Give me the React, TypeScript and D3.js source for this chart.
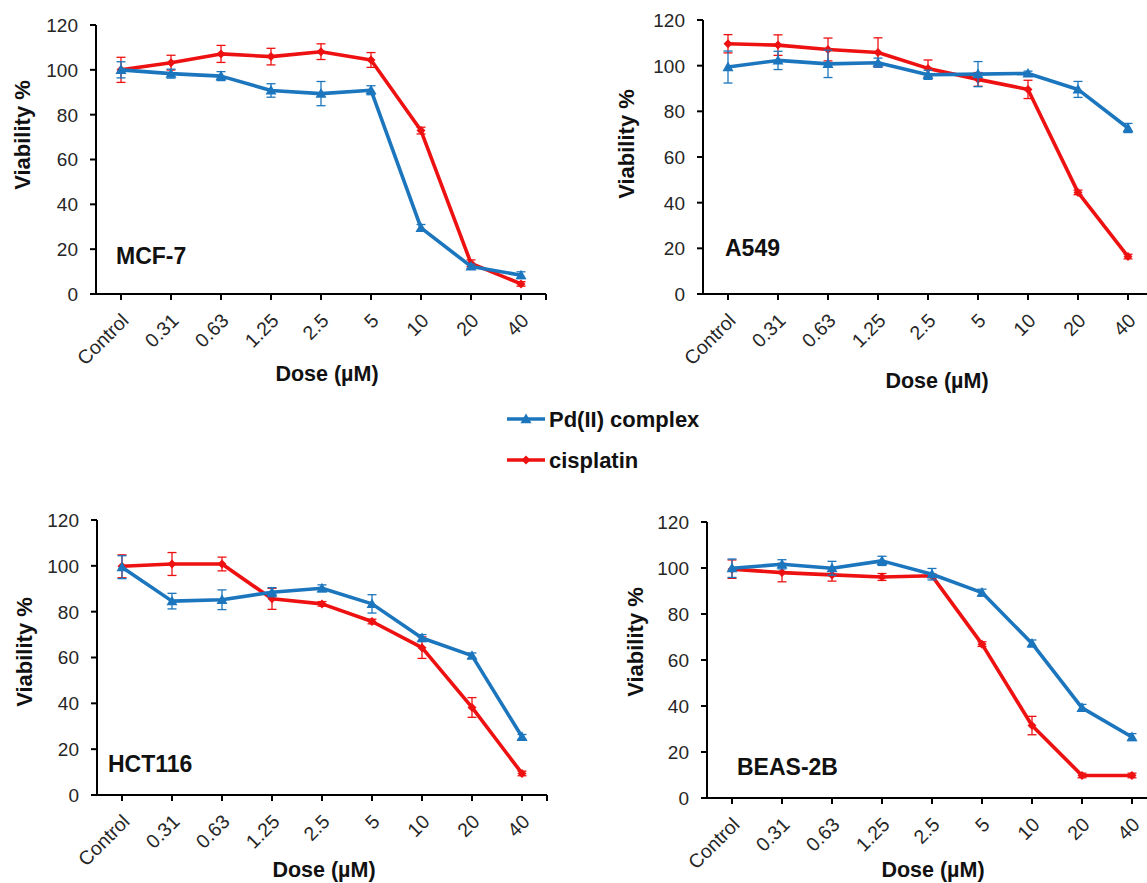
import React from "react";
import * as d3 from "d3";

// ---------- data ----------
const doses = ["Control", "0.31", "0.63", "1.25", "2.5", "5", "10", "20", "40"];
const yTicks = [0, 20, 40, 60, 80, 100, 120];
const seriesNames = ["Pd(II) complex", "cisplatin"];

const mcf7Pd = [100, 98.3, 97.2, 90.8, 89.4, 90.9, 29.5, 12.3, 8.4];
const mcf7PdErr = [3.6, 2, 2, 3, 5.4, 2, 1.5, 1, 1.5];
const mcf7Cis = [100, 103.2, 107.1, 105.9, 108.1, 104.4, 72.9, 13.7, 4.5];
const mcf7CisErr = [5.6, 3.3, 3.8, 3.7, 3.5, 3.3, 1.5, 1.5, 1];

const a549Pd = [99.4, 102.3, 100.8, 101.3, 96, 96.3, 96.6, 89.6, 72.7];
const a549PdErr = [7, 4, 6, 2, 2, 5.5, 1, 3.5, 2];
const a549Cis = [109.6, 109, 107.1, 105.8, 98.8, 94, 89.6, 44.5, 16.4];
const a549CisErr = [4, 4.5, 5, 6.4, 3.7, 3, 4, 1, 1];

const hctPd = [99.4, 84.6, 85.2, 88.5, 90.2, 83.4, 68.5, 60.8, 25.4];
const hctPdErr = [5, 3.4, 4.3, 2, 1.5, 4, 1.5, 1.2, 1];
const hctCis = [99.8, 100.8, 100.8, 85.6, 83.4, 75.7, 64.3, 38.2, 9.4];
const hctCisErr = [5, 5, 3, 4.6, 1, 1, 4.7, 4.3, 1];

const beasPd = [99.9, 101.6, 99.9, 103.1, 97.3, 89.3, 67.2, 39.2, 26.5];
const beasPdErr = [4, 2, 3, 2, 2.5, 1.5, 1.5, 1.5, 1.5];
const beasCis = [99.5, 98, 97, 96.1, 96.6, 66.9, 31.5, 9.8, 9.8];
const beasCisErr = [4, 4, 2.7, 1.5, 0.8, 1, 4, 1, 1];

// ---------- layout ----------
const BLUE = "#1C76BE";
const RED = "#EE1111";
const FONT = "Arial, 'Liberation Sans', sans-serif";

const panels = [
  { name: "MCF-7", pd: mcf7Pd, pdErr: mcf7PdErr, cis: mcf7Cis, cisErr: mcf7CisErr,
    axisX: 96, y0: 294, yTop: 25, ylabX: 30, ylabY: 135, doseX: 327, doseY: 381, nameX: 116, nameY: 264 },
  { name: "A549", pd: a549Pd, pdErr: a549PdErr, cis: a549Cis, cisErr: a549CisErr,
    axisX: 703, y0: 294, yTop: 20, ylabX: 634, ylabY: 144, doseX: 937, doseY: 388, nameX: 725, nameY: 256 },
  { name: "HCT116", pd: hctPd, pdErr: hctPdErr, cis: hctCis, cisErr: hctCisErr,
    axisX: 97, y0: 795, yTop: 520, ylabX: 32, ylabY: 652, doseX: 324, doseY: 877, nameX: 108, nameY: 772 },
  { name: "BEAS-2B", pd: beasPd, pdErr: beasPdErr, cis: beasCis, cisErr: beasCisErr,
    axisX: 707, y0: 798, yTop: 522, ylabX: 643, ylabY: 642, doseX: 933, doseY: 877, nameX: 737, nameY: 775 },
];

function Triangle({ x, y, color }: { x: number; y: number; color: string }) {
  const s = 5.5;
  return <path d={`M${x},${y - s}L${x + s},${y + s * 0.75}L${x - s},${y + s * 0.75}Z`} fill={color} />;
}
function Diamond({ x, y, color }: { x: number; y: number; color: string }) {
  const s = 4.5;
  return <path d={`M${x},${y - s}L${x + s},${y}L${x},${y + s}L${x - s},${y}Z`} fill={color} />;
}

function Panel({ p }: { p: (typeof panels)[number] }) {
  const x = d3.scaleBand<string>().domain(doses).range([p.axisX, p.axisX + 9 * 50]);
  const y = d3.scaleLinear().domain([0, 120]).range([p.y0, p.yTop]);
  const cx = (d: string) => (x(d) as number) + x.bandwidth() / 2;
  const line = d3
    .line<number>()
    .x((_, i) => cx(doses[i]))
    .y((v) => y(v));
  const xEnd = x.range()[1];

  const series = [
    { vals: p.cis, errs: p.cisErr, color: RED, marker: "d" },
    { vals: p.pd, errs: p.pdErr, color: BLUE, marker: "t" },
  ];

  return (
    <g>
      {/* axes */}
      <line x1={p.axisX} x2={p.axisX} y1={y(120)} y2={p.y0} stroke="#000" strokeWidth={2} />
      <line x1={p.axisX - 5} x2={xEnd} y1={p.y0} y2={p.y0} stroke="#000" strokeWidth={2} />
      {yTicks.map((t) => (
        <g key={t}>
          <line x1={p.axisX - 6} x2={p.axisX} y1={y(t)} y2={y(t)} stroke="#000" strokeWidth={2} />
          <text x={p.axisX - 18} y={y(t)} dy="0.36em" textAnchor="end" fontSize={19} fill="#262626" fontFamily={FONT}>
            {t}
          </text>
        </g>
      ))}
      {doses.map((d) => (
        <g key={d}>
          <line x1={cx(d)} x2={cx(d)} y1={p.y0} y2={p.y0 + 6} stroke="#000" strokeWidth={2} />
          <text
            transform={`translate(${cx(d) + 4},${p.y0 + 23}) rotate(-45)`}
            dy="0.35em"
            textAnchor="end"
            fontSize={19.5}
            fill="#262626"
            fontFamily={FONT}
          >
            {d}
          </text>
        </g>
      ))}
      <line x1={xEnd} x2={xEnd} y1={p.y0} y2={p.y0 + 6} stroke="#000" strokeWidth={2} />

      {/* series */}
      {series.map((s, si) => (
        <g key={si}>
          <path d={line(s.vals) || ""} fill="none" stroke={s.color} strokeWidth={3.6} strokeLinejoin="round" />
          {s.vals.map((v, i) => {
            const xx = cx(doses[i]);
            const e = s.errs[i];
            return (
              <g key={i}>
                <line x1={xx} x2={xx} y1={y(v + e)} y2={y(v - e)} stroke={s.color} strokeWidth={1.3} />
                <line x1={xx - 4.5} x2={xx + 4.5} y1={y(v + e)} y2={y(v + e)} stroke={s.color} strokeWidth={1.3} />
                <line x1={xx - 4.5} x2={xx + 4.5} y1={y(v - e)} y2={y(v - e)} stroke={s.color} strokeWidth={1.3} />
                {s.marker === "t" ? (
                  <Triangle x={xx} y={y(v)} color={s.color} />
                ) : (
                  <Diamond x={xx} y={y(v)} color={s.color} />
                )}
              </g>
            );
          })}
        </g>
      ))}

      {/* labels */}
      <text
        transform={`translate(${p.ylabX},${p.ylabY}) rotate(-90)`}
        textAnchor="middle"
        fontSize={22}
        fontWeight="bold"
        fill="#111"
        fontFamily={FONT}
      >
        Viability %
      </text>
      <text x={p.doseX} y={p.doseY} textAnchor="middle" fontSize={21.5} fontWeight="bold" fill="#111" fontFamily={FONT}>
        Dose (µM)
      </text>
      <text x={p.nameX} y={p.nameY} fontSize={23} fontWeight="bold" fill="#111" fontFamily={FONT}>
        {p.name}
      </text>
    </g>
  );
}

export default function App() {
  const legend = [
    { label: seriesNames[0], color: BLUE, y: 419, marker: "t" },
    { label: seriesNames[1], color: RED, y: 460, marker: "d" },
  ];
  return (
    <svg
      width={1147}
      height={883}
      style={{ position: "absolute", left: 0, top: 0, background: "#fff" }}
      xmlns="http://www.w3.org/2000/svg"
    >
      <rect width={1147} height={883} fill="#fff" />
      {panels.map((p) => (
        <Panel key={p.name} p={p} />
      ))}
      {legend.map((l) => (
        <g key={l.label}>
          <line x1={507} x2={545} y1={l.y} y2={l.y} stroke={l.color} strokeWidth={3.6} />
          {l.marker === "t" ? <Triangle x={526} y={l.y} color={l.color} /> : <Diamond x={526} y={l.y} color={l.color} />}
          <text x={549} y={l.y} dy="0.36em" fontSize={22} fontWeight="bold" fill="#111" fontFamily={FONT}>
            {l.label}
          </text>
        </g>
      ))}
    </svg>
  );
}
